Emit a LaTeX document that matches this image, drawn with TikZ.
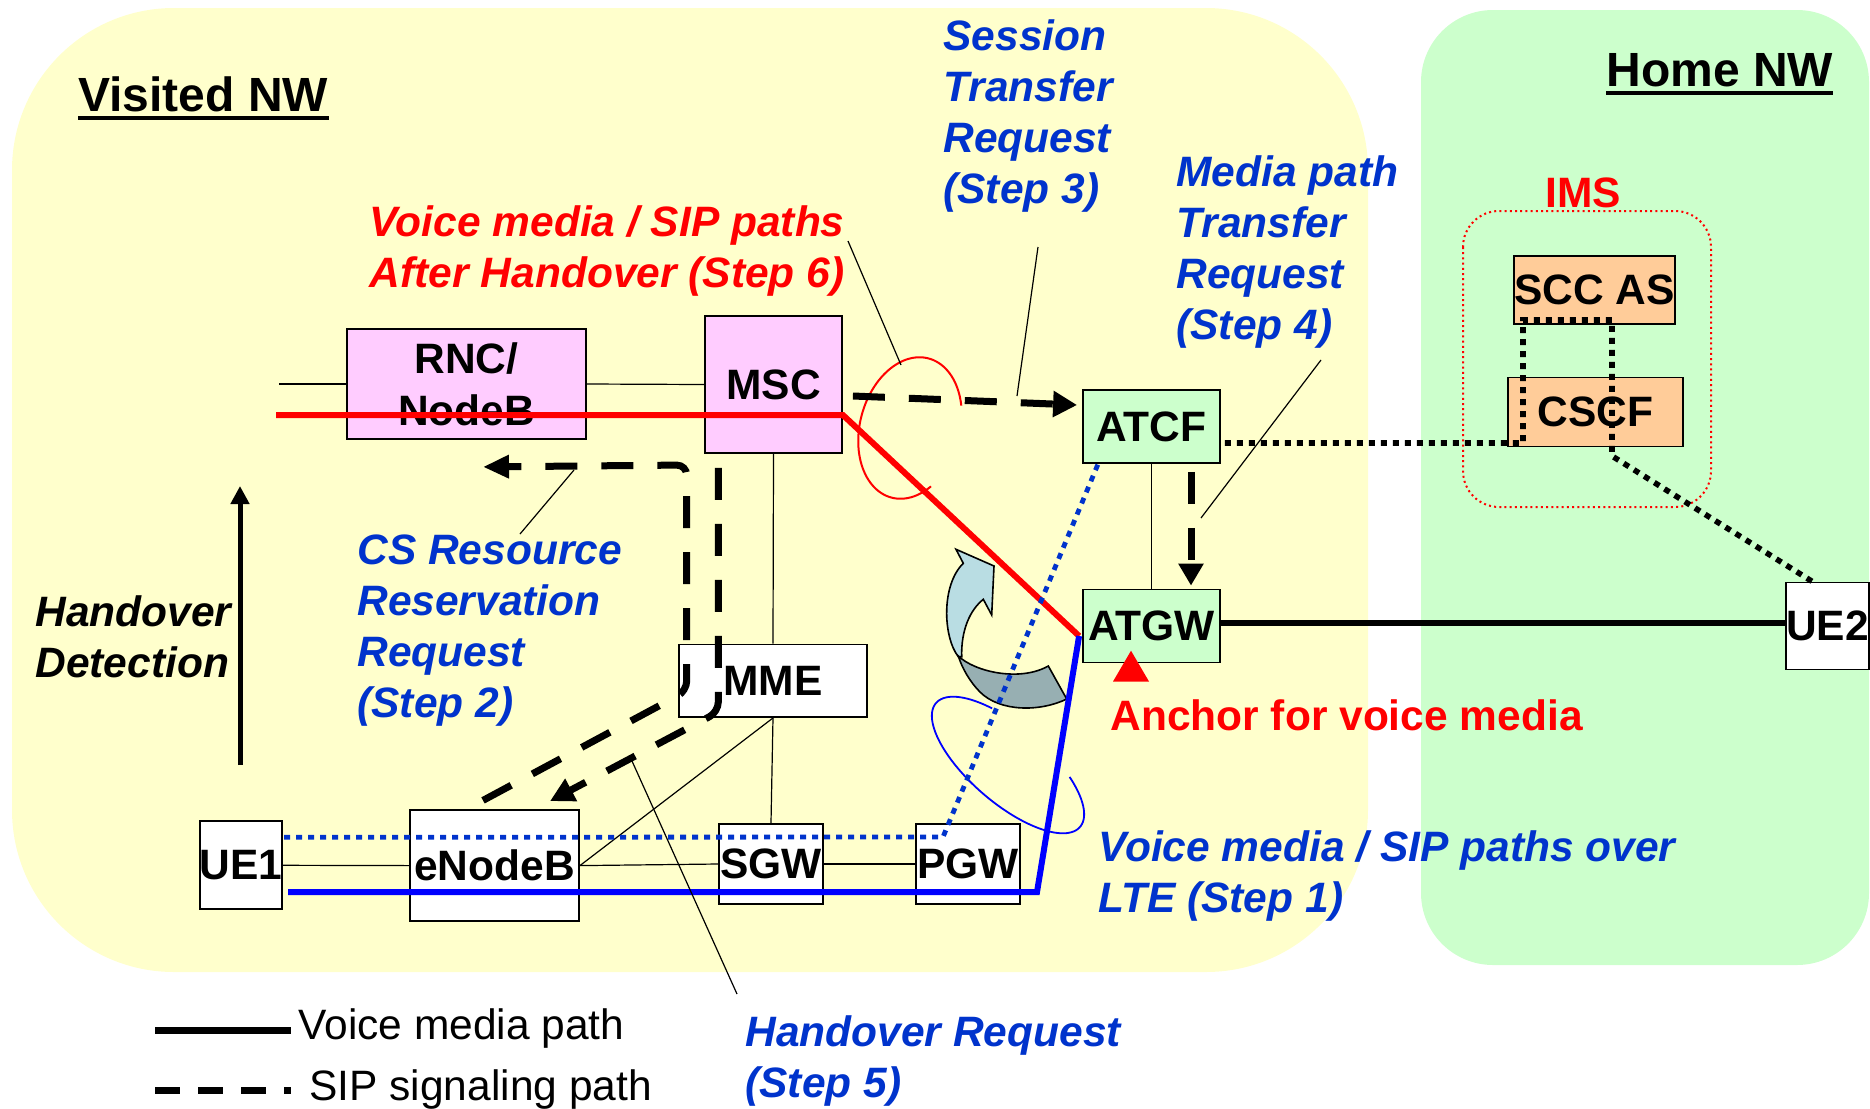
\documentclass[tikz,border=0pt]{standalone}
\usepackage{fontspec}
\setmainfont{Liberation Sans}
\usetikzlibrary{arrows.meta,calc}
\definecolor{yel}{HTML}{FFFFCC}
\definecolor{grn}{HTML}{CCFFCC}
\definecolor{pnk}{HTML}{FFCCFF}
\definecolor{org}{HTML}{FFCC99}
\definecolor{txtblue}{HTML}{0033CC}
\definecolor{arrblue}{HTML}{B9DDE3}
\definecolor{arrgray}{HTML}{97AFB2}
\begin{document}
\begin{tikzpicture}[x=0.5pt,y=-0.5pt,
  nbox/.style={draw=black, line width=0.9pt, inner sep=0pt, align=center,
    font=\bfseries\fontsize{21.25pt}{26pt}\selectfont},
  conn/.style={line width=0.6pt},
  sipdash/.style={line width=3.5pt, dash pattern=on 16pt off 12pt},
  tipbig/.style={-{Triangle[length=12pt,width=12.5pt]}},
  dotblk/.style={line width=2.8pt, dash pattern=on 3pt off 3pt},
  dotblu/.style={txtblue, line width=2.4pt, dash pattern=on 3pt off 3pt},
  lbl/.style={inner sep=0pt, align=left,
    font=\bfseries\itshape\fontsize{21.25pt}{25.5pt}\selectfont},
  title/.style={inner sep=0pt, font=\bfseries\fontsize{24pt}{28pt}\selectfont},
  legtxt/.style={inner sep=0pt, font=\fontsize{21.25pt}{25pt}\selectfont}
]
\useasboundingbox (0,0) rectangle (1870,1109);
% regions
\fill[yel, rounded corners=81pt] (12,8) rectangle (1368,972);
\fill[grn, rounded corners=36pt] (1421,10) rectangle (1869,965);
\draw[red, line width=1pt, dash pattern=on 1pt off 1.6pt, rounded corners=18pt] (1463,211) rectangle (1711,507);

% titles
\node[title, anchor=base west] (vis) at (78,111) {Visited NW};
\draw[line width=2pt] ($(vis.base west)+(0,6.5)$) -- ($(vis.base east)+(0,6.5)$);
\node[title, anchor=base west] (home) at (1606,86) {Home NW};
\draw[line width=2pt] ($(home.base west)+(0,7)$) -- ($(home.base east)+(0,7)$);
\node[inner sep=0pt, anchor=base, text=red, font=\bfseries\fontsize{21.25pt}{25pt}\selectfont] (ims) at (1583,207) {IMS};

% curved block arrow
\filldraw[fill=arrblue, draw=black, line width=0.8pt]
  (958.3,656.7) .. controls (943,637) and (941,585) .. (963.3,563.3)
  -- (956,549.3) -- (994,566) -- (991.7,615) -- (983.3,599.3)
  .. controls (970,610) and (961,630) .. (961.7,656.7) -- cycle;
\filldraw[fill=arrgray, draw=black, line width=0.8pt]
  (958.3,656) .. controls (975,672) and (1020,682) .. (1048.3,666)
  -- (1066.7,699) .. controls (1040,712) and (1000,712) .. (980,692)
  .. controls (970,682) and (962,668) .. (958.3,656) -- cycle;

% ellipses
\draw[red, line width=1pt] plot[domain=-225:61, samples=90, smooth]
  ({910 + 72*cos(\x)*0.259 + 50*sin(\x)*0.966}, {428 - 72*cos(\x)*0.966 + 50*sin(\x)*0.259});
\draw[blue, line width=0.9pt] plot[domain=-415:-121, samples=90, smooth]
  ({1008 + 95*cos(\x)*0.758 - 38*sin(\x)*0.652}, {765 + 95*cos(\x)*0.652 + 38*sin(\x)*0.758});

% nodes
\node[nbox, fill=pnk, minimum width=119.5pt, minimum height=55pt] (rnc) at (466.5,384) {RNC/\\NodeB};
\node[nbox, fill=pnk, minimum width=68.5pt, minimum height=68.5pt] (msc) at (773.5,384.5) {MSC};
\node[nbox, fill=grn, minimum width=68.5pt, minimum height=36.5pt] (atcf) at (1151.5,426.5) {ATCF};
\node[nbox, fill=grn, minimum width=68.5pt, minimum height=36.5pt] (atgw) at (1151.5,626) {ATGW};
\node[nbox, fill=org, minimum width=79.5pt, minimum height=34pt] (scc) at (1594.5,290) {SCC AS};
\node[nbox, fill=org, minimum width=87.5pt, minimum height=34.5pt] (cscf) at (1595.5,412) {CSCF};
\node[nbox, fill=white, minimum width=40.5pt, minimum height=43.5pt] (ue2) at (1827.5,626) {UE2};
\node[nbox, fill=white, minimum width=94pt, minimum height=36.25pt] (mme) at (773,680.8) {MME};
\node[nbox, fill=white, minimum width=40pt, minimum height=44pt] (ue1) at (241,865.3) {UE1};
\node[nbox, fill=white, minimum width=84.5pt, minimum height=55.3pt] (enb) at (494.5,865.6) {eNodeB};
\node[nbox, fill=white, minimum width=52pt, minimum height=40.3pt] (sgw) at (771,864) {SGW};
\node[nbox, fill=white, minimum width=52pt, minimum height=40pt] (pgw) at (968,864) {PGW};

% thin connectors
\coordinate (lt) at (279,384);
\draw[conn] (lt) -- (rnc.west);
\draw[conn] (rnc.east) -- (msc.west);
\draw[conn] (msc.south) -- (mme.north);
\draw[conn] (mme.south) -- (sgw.north);
\draw[conn] (mme.south) -- (enb.east);
\draw[conn] (ue1.east) -- (enb.west);
\draw[conn] (enb.east) -- (sgw.west);
\draw[conn] (sgw.east) -- (pgw.west);
\draw[conn] (atcf.south) -- (atgw.north);
\draw[line width=3pt] ($(atgw.east)+(0,-3)$) -- ($(ue2.west)+(0,-3)$);

% media paths
\coordinate (hov) at ($(atgw.west)+(-3,10)$);
\coordinate (rs) at (276,415);
\draw[red, line width=3pt] (rs) -- (msc.east |- rs) -- (hov);
\coordinate (bs) at (288,892);
\coordinate (bc) at (1037,892);
\draw[blue, line width=3pt] (bs) -- (bc) -- (hov);
\coordinate (dv) at (943,837);
\draw[dotblu] ($(ue1.east)+(1,-28)$) -- (dv) -- ($(atcf.south west)+(16,0)$);

% IMS signalling (dotted)
\draw[dotblk] ($(atcf.east)+(4,16.5)$) -- (1523,443) -- (1523,320) -- (1612,320) -- (1612,456) -- ($(ue2.north)+(-13.5,1)$);

% SIP signalling (dashed arrows)
\draw[sipdash, tipbig] ($(msc.east)+(10,11.5)$) -- ($(atcf.west)+(-5,-21.5)$);
\draw[sipdash, -{Triangle[length=11pt,width=12pt]}] ($(atcf.south)+(39.5,8)$) -- ($(atgw.north)+(39.5,-3)$);
\draw[sipdash, rounded corners=5pt, -{Triangle[length=13pt,width=11pt]}]
  ($(enb.north)+(-11.5,-9)$) -- (686.7,691) -- (686.7,465) -- ($(rnc.south)+(16.5,27)$);
\draw[sipdash, rounded corners=5pt, -{Triangle[length=12pt,width=12pt]}]
  ($(msc.south)+(-55.2,14)$) -- (718.3,712) -- ($(enb.north)+(55.5,-8.3)$);

% handover detection arrow
\coordinate (hd1) at (240,765);
\coordinate (hd2) at (240,486);
\draw[line width=2.5pt, -{Triangle[length=9pt,width=9pt]}] (hd1) -- (hd2);

% anchor triangle
\fill[red] (1131,650.7) -- (1149,681.5) -- (1113,681.5) -- cycle;

% labels
\node[lbl, text=txtblue, anchor=north west] (s3) at (943,19) {Session\\Transfer\\Request\\(Step 3)};
\node[lbl, text=txtblue, anchor=north west] (s4) at (1176,155) {Media path\\Transfer\\Request\\(Step 4)};
\node[lbl, text=red, anchor=north east, align=right] (s6) at (845,205) {Voice media / SIP paths\\After Handover (Step 6)};
\node[lbl, text=txtblue, anchor=north west] (s2) at (357,534) {CS Resource\\Reservation\\Request\\(Step 2)};
\node[lbl, text=black, anchor=north west] (hd) at (35,595) {Handover\\Detection};
\node[lbl, text=txtblue, anchor=north west] (s5) at (745,1015) {Handover Request\\(Step 5)};
\node[lbl, text=txtblue, anchor=north west] (s1) at (1098,830) {Voice media / SIP paths over\\LTE (Step 1)};
\node[inner sep=0pt, anchor=base west, text=red, font=\bfseries\fontsize{21.25pt}{25pt}\selectfont] (anc) at (1110,730) {Anchor for voice media};

% callout lines
\coordinate (c6a) at (848,241); \coordinate (c6b) at (901,365);
\coordinate (c3a) at (1038,247); \coordinate (c3b) at (1017,396);
\coordinate (c4a) at (1321,360); \coordinate (c4b) at (1201,518);
\coordinate (c2a) at (574,470); \coordinate (c2b) at (520,534);
\coordinate (c5a) at (632,761); \coordinate (c5b) at (737,994);
\draw[conn] (c6a) -- (c6b);
\draw[conn] (c3a) -- (c3b);
\draw[conn] (c4a) -- (c4b);
\draw[conn] (c2a) -- (c2b);
\draw[conn] (c5a) -- (c5b);

% legend
\coordinate (l1a) at (155,1030); \coordinate (l1b) at (291,1030);
\coordinate (l2a) at (155,1090); \coordinate (l2b) at (291,1090);
\draw[line width=3.5pt] (l1a) -- (l1b);
\draw[line width=3.5pt, dash pattern=on 12.5pt off 9pt] (l2a) -- (l2b);
\node[legtxt, anchor=base west] (lg1) at (298,1039) {Voice media path};
\node[legtxt, anchor=base west] (lg2) at (309,1100) {SIP signaling path};
\end{tikzpicture}
\end{document}
